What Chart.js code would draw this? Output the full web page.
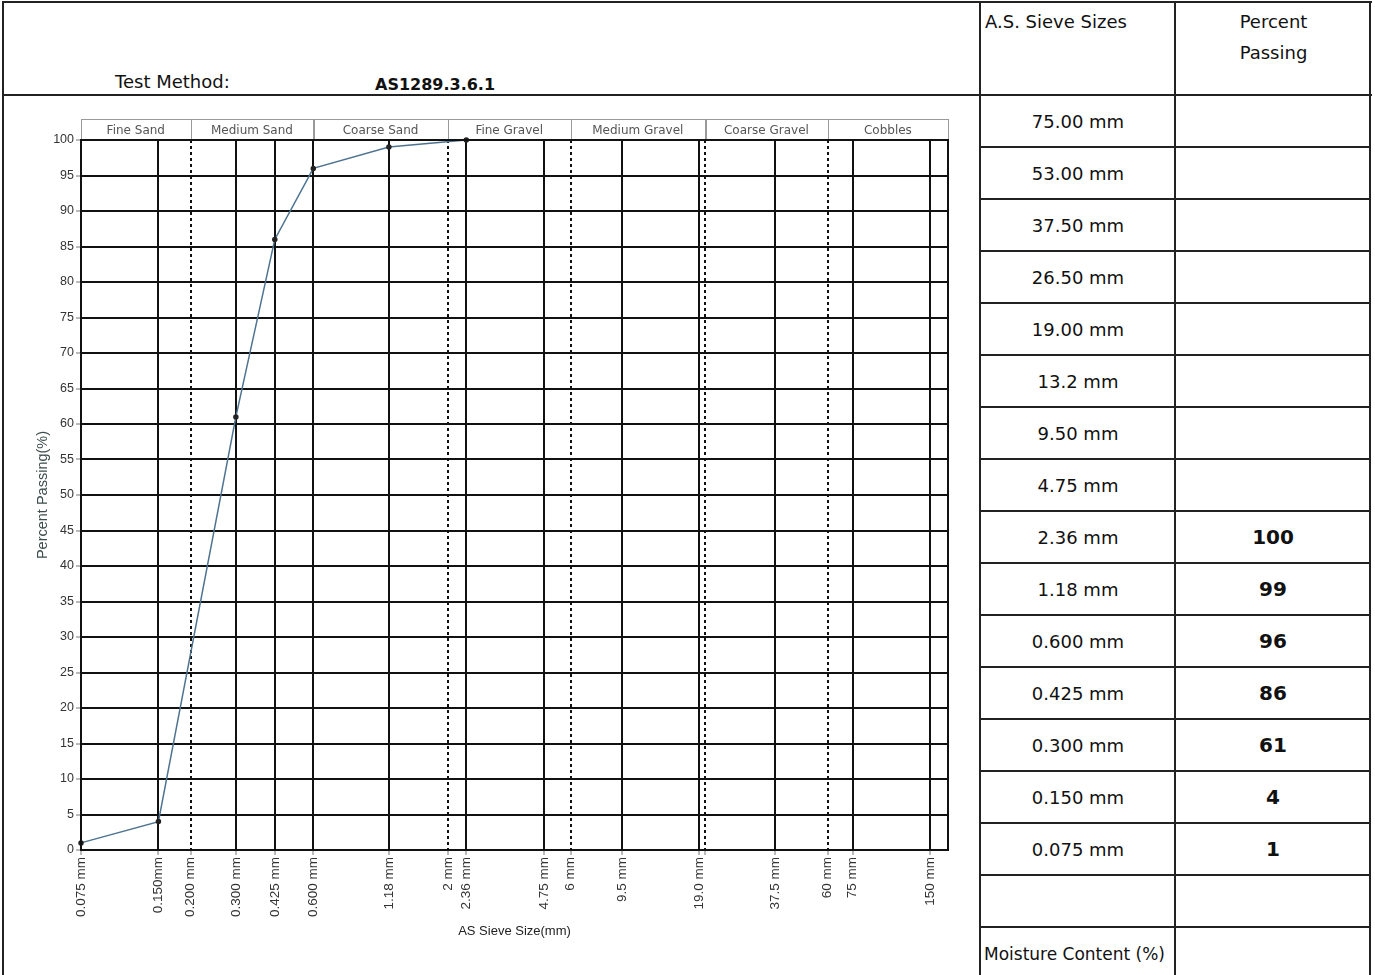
<!DOCTYPE html>
<html>
<head>
<meta charset="utf-8">
<script src="https://cdn.jsdelivr.net/npm/chart.js@4/dist/chart.umd.min.js"></script>
<style>
  body{ margin:0; background:#fff; }
  #page{ position:relative; width:1375px; height:975px; overflow:hidden; font-family:'DejaVu Sans', Verdana, sans-serif; color:#111; }
  .hl, .vl{ position:absolute; background:#222; }
  .txt{ position:absolute; white-space:nowrap; }
  .cell{ position:absolute; display:flex; align-items:center; justify-content:center; font-size:18px; }
  canvas{ position:absolute; left:0; top:96px; }
</style>
</head>
<body>
<div id="page">
  <canvas id="chGrading" width="978" height="850"></canvas>
</div>
<script>
// sieve analysis results
const sieveSizes = [0.075, 0.150, 0.300, 0.425, 0.600, 1.18, 2.36];
const percentPassing = [1, 4, 61, 86, 96, 99, 100];

// x axis ticks (mm) and their labels
const tickValues = [0.075, 0.15, 0.2, 0.3, 0.425, 0.6, 1.18, 2, 2.36, 4.75, 6, 9.5, 19, 20, 37.5, 60, 75, 150];
const tickLabels = ['0.075 mm','0.150mm','0.200 mm','0.300 mm','0.425 mm','0.600 mm','1.18 mm','2 mm','2.36 mm','4.75 mm','6 mm','9.5 mm','19.0 mm','','37.5 mm','60 mm','75 mm','150 mm'];
const dottedTicks = [0.2, 2, 6, 20, 60];

// soil classification bands
const bandNames = ['Fine Sand','Medium Sand','Coarse Sand','Fine Gravel','Medium Gravel','Coarse Gravel','Cobbles'];
const bandEdges = [0.075, 0.2, 0.6, 2, 6, 20, 60, 176];

// table on the right
const tableSieves = [75, 53, 37.5, 26.5, 19, 13.2, 9.5, 4.75, 2.36, 1.18, 0.6, 0.425, 0.3, 0.15, 0.075];
const tableLabels = ['75.00 mm','53.00 mm','37.50 mm','26.50 mm','19.00 mm','13.2 mm','9.50 mm','4.75 mm','2.36 mm','1.18 mm','0.600 mm','0.425 mm','0.300 mm','0.150 mm','0.075 mm'];

(function(){
  const page = document.getElementById('page');

  function add(cls, style, text){
    const d = document.createElement('div');
    d.className = cls;
    Object.assign(d.style, style);
    if(text!=null) d.textContent = text;
    page.appendChild(d);
    return d;
  }
  function hline(y, x1, x2){ add('hl', {left:x1+'px', top:y+'px', width:(x2-x1)+'px', height:'2px'}); }
  function vline(x, y1, y2){ add('vl', {left:x+'px', top:y1+'px', width:'2px', height:(y2-y1)+'px'}); }

  // form frame
  hline(1, 2, 1372);
  hline(94, 2, 1372);
  vline(2, 1, 975);
  vline(979, 1, 975);
  vline(1174, 1, 975);
  vline(1369, 1, 975);
  for(let i=1;i<=17;i++) hline(94+52*i, 979, 1371);

  add('txt', {left:'115px', top:'71px', fontSize:'18px', lineHeight:'22px'}, 'Test Method:');
  add('txt', {left:'375px', top:'74px', fontSize:'16px', lineHeight:'22px', fontWeight:'bold'}, 'AS1289.3.6.1');

  // table header
  add('txt', {left:'985px', top:'11px', fontSize:'18px', lineHeight:'22px'}, 'A.S. Sieve Sizes');
  add('txt', {left:'1176px', width:'195px', top:'11px', fontSize:'18px', lineHeight:'22px', textAlign:'center'}, 'Percent');
  add('txt', {left:'1176px', width:'195px', top:'42px', fontSize:'18px', lineHeight:'22px', textAlign:'center'}, 'Passing');

  // table rows
  tableLabels.forEach((lab, i)=>{
    const top = 96 + 52*i;
    add('cell', {left:'981px', width:'194px', top:top+'px', height:'50px'}, lab);
    const k = sieveSizes.indexOf(tableSieves[i]);
    const v = k>=0 ? String(percentPassing[k]) : '';
    add('cell', {left:'1176px', width:'194px', top:top+'px', height:'50px', fontWeight:'bold', fontSize:'20px'}, v);
  });
  add('txt', {left:'984px', top:'943px', fontSize:'17px', lineHeight:'22px'}, 'Moisture Content (%)');

  // band header + plot frame
  const frame = {
    id:'frame',
    afterDraw(chart){
      const {ctx, chartArea:a, scales:{x}} = chart;
      ctx.save();
      ctx.strokeStyle = '#9a9a9a';
      ctx.lineWidth = 1;
      ctx.font = '12px "DejaVu Sans", Verdana, sans-serif';
      ctx.fillStyle = '#555';
      ctx.textAlign = 'center';
      ctx.textBaseline = 'middle';
      const h = 21;
      for(let i=0;i<bandNames.length;i++){
        const x1 = x.getPixelForValue(bandEdges[i]);
        const x2 = x.getPixelForValue(bandEdges[i+1]);
        ctx.strokeRect(Math.round(x1)+0.5, a.top-h+0.5, Math.round(x2-x1), h);
        ctx.fillText(bandNames[i], (x1+x2)/2, a.top-h/2+1);
      }
      ctx.strokeStyle = '#111';
      ctx.lineWidth = 2;
      ctx.strokeRect(a.left, a.top, a.right-a.left, a.bottom-a.top);
      ctx.restore();
    }
  };

  new Chart(document.getElementById('chGrading'), {
    type:'scatter',
    data:{ datasets:[{
      data: sieveSizes.map((s,i)=>({x:s, y:percentPassing[i]})),
      showLine:true,
      borderColor:'#4d7391',
      borderWidth:1.5,
      pointRadius:2,
      pointBackgroundColor:'#222',
      pointBorderColor:'#222',
      clip:false
    }]},
    options:{
      responsive:false,
      devicePixelRatio:1,
      animation:false,
      layout:{ padding:{ top:44, right:30, left:0, bottom:0 } },
      plugins:{ legend:{ display:false }, tooltip:{ enabled:false } },
      scales:{
        x:{
          type:'logarithmic',
          min:0.075, max:176,
          afterBuildTicks: s => { s.ticks = tickValues.map(v=>({value:v})); },
          afterFit: s => { s.height = 96; },
          ticks:{
            autoSkip:false, minRotation:90, maxRotation:90, padding:2,
            color:'#333',
            font:{ family:'"Liberation Sans", Arial, sans-serif', size:13.5 },
            callback:(v,i)=>tickLabels[i]
          },
          grid:{ color:'#111', lineWidth:2, tickLength:5, tickColor:'#777', tickWidth:1 },
          border:{ color:'#111', width:2, dash: c => (c.tick && dottedTicks.includes(c.tick.value)) ? [3,3] : [] },
          title:{ display:true, text:'AS Sieve Size(mm)', color:'#222',
            font:{ family:'"Liberation Sans", Arial, sans-serif', size:13 }, padding:{ bottom:7 } }
        },
        y:{
          min:0, max:100,
          afterFit: s => { s.width = 81; },
          ticks:{ stepSize:5, padding:2, color:'#333',
            font:{ family:'"Liberation Sans", Arial, sans-serif', size:12.5 } },
          grid:{ color:'#111', lineWidth:2, tickLength:5, tickColor:'#777', tickWidth:1 },
          border:{ color:'#111', width:2 },
          title:{ display:true, text:'Percent Passing(%)', color:'#3d4d4d',
            font:{ family:'"Liberation Sans", Arial, sans-serif', size:14.5 }, padding:{ top:34 } }
        }
      }
    },
    plugins:[frame]
  });
})();
</script>
</body>
</html>
